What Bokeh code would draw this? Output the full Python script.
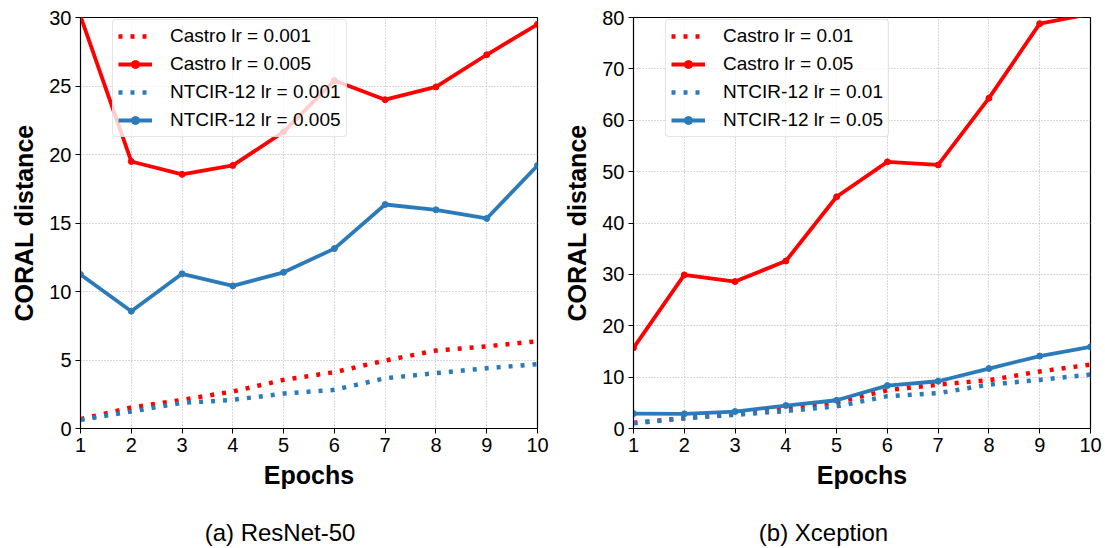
from bokeh.plotting import figure
from bokeh.models import Range1d, Legend, LegendItem, FixedTicker, Div
from bokeh.layouts import row, column
from bokeh.embed import file_html
from bokeh.resources import INLINE

# ---------------- data ----------------
epochs = [1, 2, 3, 4, 5, 6, 7, 8, 9, 10]

resnet_yticks = [0, 5, 10, 15, 20, 25, 30]
resnet_castro_low = [0.68, 1.53, 2.09, 2.70, 3.55, 4.11, 4.96, 5.69, 6.00, 6.37]
resnet_castro_high = [30.1, 19.49, 18.55, 19.2, 21.65, 25.4, 24.0, 24.93, 27.28, 29.5]
resnet_ntcir_low = [0.63, 1.24, 1.87, 2.09, 2.55, 2.82, 3.67, 4.04, 4.40, 4.70]
resnet_ntcir_high = [11.24, 8.56, 11.29, 10.41, 11.4, 13.13, 16.35, 15.96, 15.33, 19.2]
resnet_labels = ["Castro lr = 0.001", "Castro lr = 0.005",
                 "NTCIR-12 lr = 0.001", "NTCIR-12 lr = 0.005"]

xception_yticks = [0, 10, 20, 30, 40, 50, 60, 70, 80]
xception_castro_low = [1.1, 2.0, 2.9, 3.95, 5.1, 7.45, 8.55, 9.4, 11.1, 12.44]
xception_castro_high = [15.7, 29.9, 28.6, 32.6, 45.1, 51.9, 51.3, 64.3, 78.8, 80.7]
xception_ntcir_low = [1.0, 2.0, 2.65, 3.4, 4.3, 6.3, 6.87, 8.55, 9.46, 10.5]
xception_ntcir_high = [2.9, 2.85, 3.3, 4.47, 5.5, 8.36, 9.2, 11.67, 14.1, 15.9]
xception_labels = ["Castro lr = 0.01", "Castro lr = 0.05",
                   "NTCIR-12 lr = 0.01", "NTCIR-12 lr = 0.05"]

captions = ["(a) ResNet-50", "(b) Xception"]

RED = "#ff0000"
BLUE = "#2b7bba"
FONT = "Liberation Sans"


def make_panel(ymax, yticks, low_c, high_c, low_n, high_n, labels,
               width, min_left, min_right):
    p = figure(width=width, height=508,
               x_range=Range1d(1, 10), y_range=Range1d(0, ymax),
               output_backend="svg", toolbar_location=None,
               min_border_left=min_left, min_border_right=min_right,
               min_border_top=17, min_border_bottom=80)
    p.outline_line_color = "black"
    p.outline_line_width = 1.2
    p.outline_line_alpha = 1

    for g in (p.xgrid, p.ygrid):
        g.grid_line_color = "#b0b0b0"
        g.grid_line_dash = "1 2"
        g.grid_line_width = 1

    p.xaxis.ticker = FixedTicker(ticks=epochs)
    p.yaxis.ticker = FixedTicker(ticks=yticks)
    p.xaxis.axis_label = "Epochs"
    p.yaxis.axis_label = "CORAL distance"
    for ax in (p.xaxis, p.yaxis):
        ax.axis_label_text_font = FONT
        ax.axis_label_text_font_style = "bold"
        ax.axis_label_text_font_size = "25px"
        ax.axis_label_text_color = "black"
        ax.major_label_text_font = FONT
        ax.major_label_text_font_size = "20px"
        ax.major_label_text_color = "black"
        ax.major_tick_out = 5
        ax.major_tick_in = 0
        ax.minor_tick_out = 0
        ax.minor_tick_in = 0
        ax.axis_line_color = "black"
        ax.major_tick_line_color = "black"
        ax.major_label_standoff = 4
    p.xaxis.axis_label_standoff = 6
    p.yaxis.axis_label_standoff = 8

    r1 = p.line(epochs, low_c, color=RED, line_width=4.5, line_dash="4 8",
                line_cap="butt")
    r2 = p.line(epochs, high_c, color=RED, line_width=3.8)
    r2m = p.scatter(epochs, high_c, color=RED, size=6)
    r3 = p.line(epochs, low_n, color=BLUE, line_width=4.5, line_dash="4 8",
                line_cap="butt")
    r4 = p.line(epochs, high_n, color=BLUE, line_width=3.8)
    r4m = p.scatter(epochs, high_n, color=BLUE, size=6)

    legend = Legend(items=[
        LegendItem(label=labels[0], renderers=[r1]),
        LegendItem(label=labels[1], renderers=[r2, r2m]),
        LegendItem(label=labels[2], renderers=[r3]),
        LegendItem(label=labels[3], renderers=[r4, r4m]),
    ])
    legend.location = (32, 291)
    legend.margin = 0
    legend.padding = 5
    legend.spacing = 6
    legend.glyph_width = 34
    legend.glyph_height = 20
    legend.label_height = 20
    legend.label_standoff = 18
    legend.label_text_font = FONT
    legend.label_text_font_size = "19px"
    legend.label_text_color = "black"
    legend.border_line_color = "#cccccc"
    legend.border_line_width = 1
    legend.background_fill_color = "white"
    legend.background_fill_alpha = 0.8
    try:
        legend.border_radius = 4
    except Exception:
        pass
    p.add_layout(legend)
    return p


p1 = make_panel(30, resnet_yticks, resnet_castro_low, resnet_castro_high,
                resnet_ntcir_low, resnet_ntcir_high, resnet_labels,
                560, 80, 23)
p2 = make_panel(80, xception_yticks, xception_castro_low, xception_castro_high,
                xception_ntcir_low, xception_ntcir_high, xception_labels,
                545, 72, 15)


def caption(text, width, pad_left, pad_right):
    html = ('<div style="font-family: \'Liberation Sans Narrow\', \'Liberation Sans\', sans-serif;'
            ' font-size: 24px; color: black; text-align: center; padding-top: 8px;'
            ' padding-left: %dpx; padding-right: %dpx; width: %dpx;">%s</div>'
            % (pad_left, pad_right, width - pad_left - pad_right, text))
    return Div(text=html, width=width, height=38, margin=0)


d1 = caption(captions[0], 560, 32, 0)
d2 = caption(captions[1], 545, 0, 9)

layout = column(row(p1, p2), row(d1, d2))

open("out.html", "w").write(file_html(layout, INLINE))
